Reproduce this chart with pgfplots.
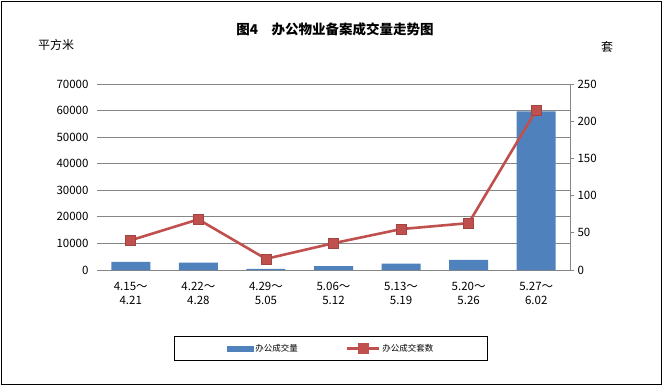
\documentclass[border=0pt]{standalone}
\usepackage{fontspec}
\setmainfont{Noto Sans CJK SC}
\usepackage{pgfplots}
\pgfplotsset{compat=1.18}
\definecolor{barblue}{HTML}{4F81BD}
\definecolor{linered}{HTML}{C0504D}
\definecolor{gridgray}{HTML}{868686}
\begin{document}
\begin{tikzpicture}[x=1pt,y=1pt]
\useasboundingbox (0,0) rectangle (663,386);
\draw[black, line width=1pt] (1.5,1.5) rectangle (661.5,384.5);
\node[font=\bfseries\fontsize{13.5}{15}\selectfont] at (335,357) {图4\quad 办公物业备案成交量走势图};
\node[font=\fontsize{12}{14}\selectfont] at (56,341) {平方米};
\node[font=\fontsize{12}{14}\selectfont] at (607,339) {套};
\begin{axis}[
  at={(97pt,116pt)}, anchor=south west, scale only axis,
  width=473pt, height=186pt,
  xmin=-0.5, xmax=6.5, ymin=0, ymax=70000,
  axis lines*=left,
  y axis line style={draw=none},
  x axis line style={gridgray, line width=0.8pt},
  ytick={0,10000,...,70000},
  ymajorgrids, grid style={gridgray, line width=0.8pt},
  major tick length=0pt,
  scaled y ticks=false,
  /pgf/number format/.cd, fixed, 1000 sep={}, assume math mode=true,
  /pgfplots/.cd,
  tick label style={font=\fontsize{11.5}{14}\selectfont},
  yticklabel style={xshift=-5pt},
  xtick={0,...,6},
  xticklabels={{4.15～\\4.21},{4.22～\\4.28},{4.29～\\5.05},{5.06～\\5.12},{5.13～\\5.19},{5.20～\\5.26},{5.27～\\6.02}},
  xticklabel style={align=center, yshift=-9pt},
  bar width=39pt,
]
\addplot[ybar, fill=barblue, draw=none] coordinates {(0,3100) (1,2750) (2,450) (3,1500) (4,2400) (5,3800) (6,59700)};
\end{axis}
\begin{axis}[
  at={(97pt,116pt)}, anchor=south west, scale only axis,
  width=473pt, height=186pt,
  xmin=-0.5, xmax=6.5, ymin=0, ymax=250,
  axis y line*=right, axis x line=none,
  y axis line style={gridgray, line width=0.8pt},
  ytick={0,50,...,250},
  tick align=outside, major tick length=4pt,
  tick style={gridgray, line width=0.8pt},
  /pgf/number format/assume math mode=true,
  tick label style={font=\fontsize{11.5}{14}\selectfont},
  legend columns=2,
  legend style={draw=black, line width=0.8pt, at={(axis description cs:0.4947,-0.422)}, anchor=center,
    font=\fontsize{8.5}{10}\selectfont, inner xsep=52pt, inner ysep=6pt,
    /tikz/every even column/.append style={column sep=46pt}},
]
\addlegendimage{legend image code/.code={\fill[barblue] (0pt,-2.5pt) rectangle (26pt,2.5pt);}}
\addlegendentry{办公成交量}
\addplot[linered, line width=2.6pt, mark=square*, mark size=5pt, mark options={fill=linered, draw=linered!85!black, line width=0.6pt},
  legend image code/.code={\draw[linered,line width=2.4pt] (0pt,0pt) -- (32pt,0pt); \fill[linered] (12pt,-4.5pt) rectangle (21pt,4.5pt);}]
  coordinates {(0,40) (1,68) (2,15) (3,36) (4,55) (5,63) (6,215)};
\addlegendentry{办公成交套数}
\end{axis}
\end{tikzpicture}
\end{document}
